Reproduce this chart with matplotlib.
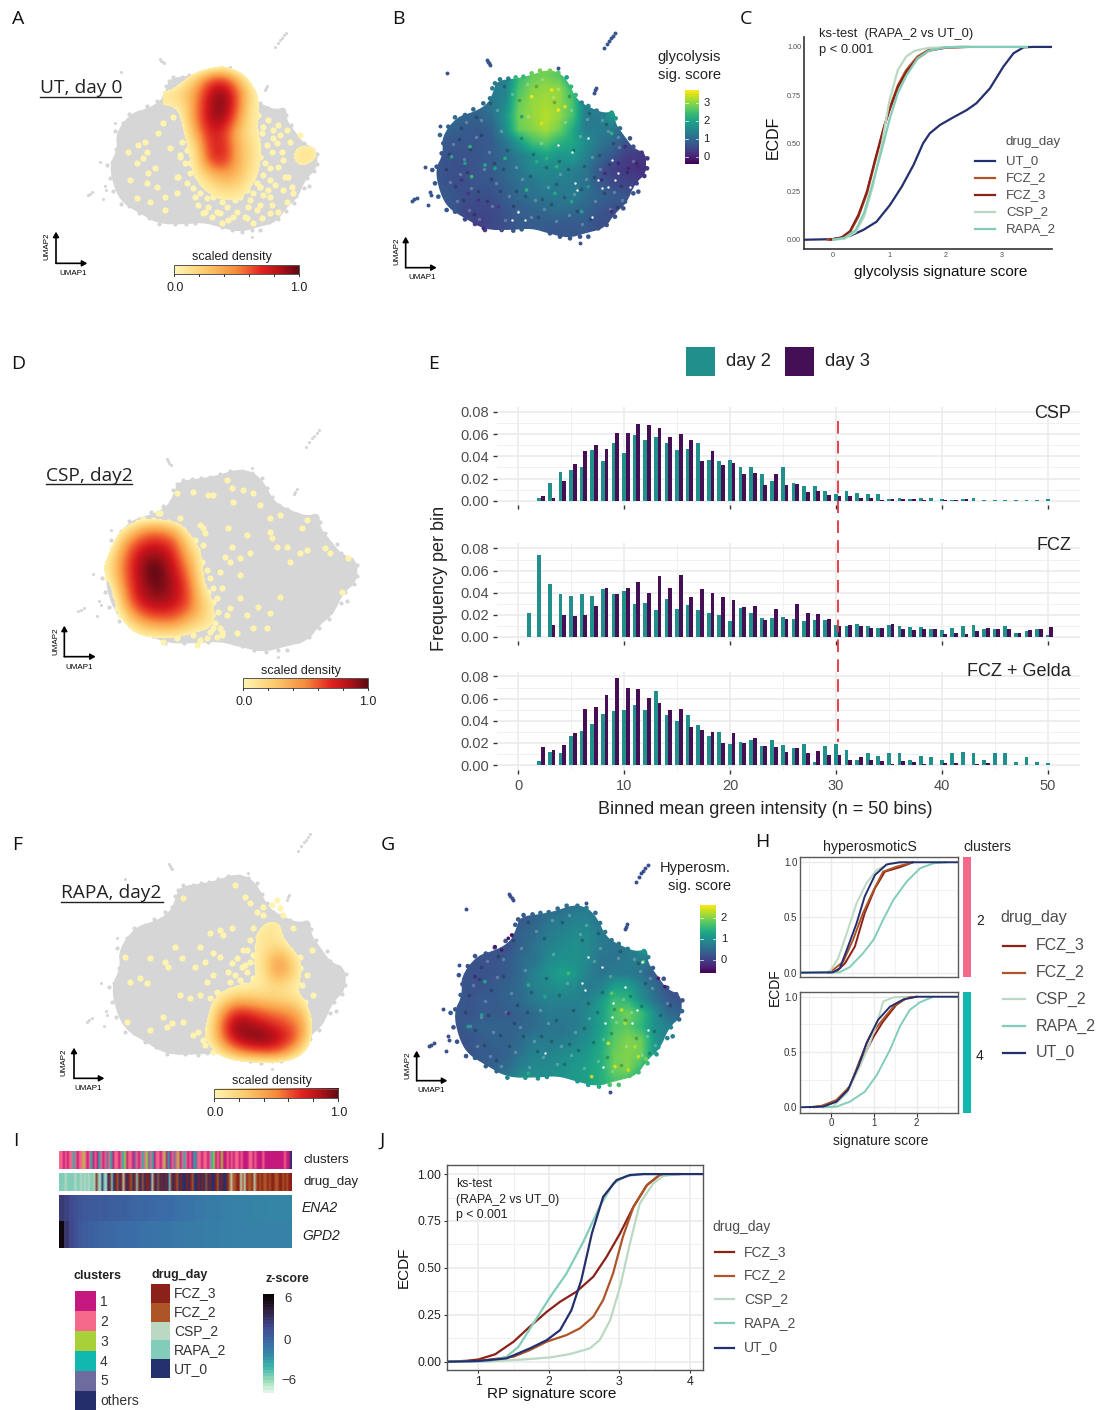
import numpy as np
import matplotlib
matplotlib.use('Agg')
import matplotlib.pyplot as plt
from matplotlib.colors import LinearSegmentedColormap
from matplotlib.colors import to_rgb
from matplotlib.patches import Polygon, Rectangle

plt.rcParams['font.family'] = ['Liberation Sans', 'DejaVu Sans']

W, H = 1113, 1410

# colours
c_ut, c_fcz2, c_fcz3, c_csp, c_rapa = '#24306E', '#AD5527', '#8B2118', '#BBD9C2', '#82CDB9'
c_day2, c_day3 = '#21908C', '#440F54'
cluster_colors = ['#C5187E', '#F4688A', '#A8D038', '#10B8AF', '#6E6C9E', '#242E6A']
cluster_names = ['1', '2', '3', '4', '5', 'others']
drug_names = ['FCZ_3', 'FCZ_2', 'CSP_2', 'RAPA_2', 'UT_0']
drug_colors = [c_fcz3, c_fcz2, c_csp, c_rapa, c_ut]

# ---- UMAP cloud outline and islands
cloud_x = [335, 395, 440, 480, 520, 550, 575, 620, 660, 690, 690, 720, 745, 785, 785, 750, 725, 690, 660, 600, 550, 490, 440, 380, 300, 240, 190, 165, 150, 175, 170, 215, 270, 310, 325]
cloud_y = [182, 175, 165, 150, 155, 185, 240, 265, 280, 270, 310, 350, 385, 400, 460, 490, 550, 580, 625, 640, 655, 640, 625, 630, 630, 595, 565, 520, 450, 400, 350, 290, 275, 250, 215]
fringe_x = [330, 345, 370, 392, 415, 440, 465, 495, 520, 545, 558, 572, 590, 610, 635, 655, 680, 692, 705, 735, 745, 770, 787, 786, 778, 755, 760, 745, 720, 715, 690, 685, 665, 640, 610, 585, 555, 525, 495, 470, 440, 410, 385, 350, 300, 270, 240, 210, 185, 160, 150, 142, 155, 170, 175, 165, 190, 210, 240, 265, 295, 315, 322]
fringe_y = [190, 178, 176, 172, 170, 160, 152, 152, 158, 172, 200, 225, 248, 258, 272, 285, 278, 295, 325, 355, 380, 398, 415, 445, 468, 490, 515, 520, 545, 565, 590, 578, 615, 625, 650, 650, 655, 650, 640, 625, 620, 628, 632, 630, 630, 612, 598, 575, 570, 530, 490, 450, 440, 400, 370, 345, 320, 292, 285, 268, 250, 235, 205]
island_x = [658, 665, 672, 678, 684, 690, 305, 308, 312, 315, 185, 630, 626, 633, 520, 82, 88, 95, 135, 138, 130, 585, 120, 165]
island_y = [85, 72, 62, 55, 47, 40, 120, 126, 130, 135, 160, 210, 218, 204, 145, 543, 538, 533, 515, 525, 555, 670, 440, 318]
grain_light_x = [205, 238, 272, 311, 349, 392, 428, 467, 503, 541, 586, 622, 668, 703, 744, 226, 259, 296, 334, 373, 412, 449, 488, 526, 567, 603, 645, 688, 216, 251, 283, 322, 361, 398, 437, 476, 514, 553, 592, 631, 676, 712, 195, 244, 289, 337, 381, 425, 471, 519, 558, 607, 652, 698]
grain_light_y = [372, 418, 351, 396, 332, 441, 287, 368, 231, 305, 347, 412, 333, 381, 422, 462, 503, 447, 489, 528, 478, 541, 502, 463, 522, 476, 447, 515, 542, 571, 597, 558, 601, 572, 592, 566, 603, 585, 611, 543, 566, 539, 486, 306, 301, 269, 221, 191, 177, 206, 269, 297, 301, 352]
grain_dark_x = [192, 221, 254, 288, 327, 365, 407, 444, 482, 523, 564, 598, 641, 683, 725, 211, 247, 279, 318, 354, 393, 435, 471, 512, 549, 589, 628, 672, 709, 234, 268, 305, 344, 383, 421, 458, 497, 538, 577, 616, 658, 695, 183, 228, 274, 316, 358, 403, 452, 507, 551, 613, 663, 752]
grain_dark_y = [401, 356, 387, 346, 428, 391, 353, 401, 441, 423, 391, 439, 404, 368, 455, 497, 456, 512, 477, 448, 513, 469, 536, 491, 447, 507, 471, 432, 499, 539, 581, 543, 514, 557, 527, 592, 552, 531, 572, 596, 519, 561, 447, 323, 292, 248, 197, 241, 197, 246, 227, 278, 312, 429]

# ---- density grid, panel A
dens_a_x = [420, 460, 500, 540, 580, 620, 660, 700, 740, 780, 820, 860, 900]
dens_a_y = [140, 180, 220, 260, 300, 340, 380, 420, 460, 500, 540, 580, 620]
dens_a = [[0, 0, 0, 0, .08, 0, 0, 0, 0, 0, 0, 0, 0],
          [0, .12, .3, .6, .65, .4, .1, 0, 0, 0, 0, 0, 0],
          [.2, .3, .45, .8, .95, .6, .25, .1, 0, 0, 0, 0, 0],
          [.18, .2, .5, .85, 1.0, .6, .2, .13, .2, .12, 0, 0, 0],
          [0, .17, .5, .85, .9, .5, .2, .13, .12, .1, 0, 0, 0],
          [0, .12, .4, .75, .7, .35, .2, .13, .12, .1, 0, 0, 0],
          [0, .1, .25, .7, .75, .4, .25, .13, .12, .12, .2, .18, 0],
          [0, .1, .2, .65, .75, .4, .25, .13, .1, .14, .24, .19, 0],
          [0, .1, .17, .35, .45, .38, .22, .12, .1, .1, .12, 0, 0],
          [0, .1, .13, .2, .28, .28, .15, .12, .1, .1, 0, 0, 0],
          [0, 0, .1, .13, .15, .15, .12, .1, .1, 0, 0, 0, 0],
          [0, 0, 0, .1, .12, .12, .1, .1, 0, 0, 0, 0, 0],
          [0, 0, 0, 0, 0, 0, 0, 0, 0, 0, 0, 0, 0]]
dots_a_x = [345, 385, 350, 325, 295, 320, 375, 355, 300, 350, 340, 420, 450, 465, 440, 380, 405, 360, 320, 405, 440, 470, 495, 535, 560, 610, 650, 575, 615, 660, 690, 720, 770, 790, 775, 760, 725, 810, 400, 430, 520, 590, 690,
            655, 670, 685, 700, 715, 730, 745, 660, 680, 695, 710, 730, 750, 770, 675, 690, 705, 720, 740, 755, 780, 665, 680, 700, 720, 745, 765, 785, 650, 670, 690, 715, 735, 760,
            490, 510, 530, 550, 575, 600, 630, 655, 680, 700, 725, 745, 505, 525, 545, 570, 595, 620, 645, 670, 695, 720, 480, 470, 455, 470, 450, 480, 465, 485, 445]
dots_a_y = [365, 340, 395, 375, 395, 430, 445, 460, 480, 490, 415, 385, 405, 430, 470, 500, 530, 545, 535, 570, 520, 490, 530, 560, 575, 590, 595, 610, 540, 540, 555, 530, 545, 520, 470, 420, 395, 345, 310, 290, 580, 560, 500,
            290, 310, 285, 320, 300, 330, 315, 345, 360, 340, 375, 355, 345, 330, 395, 410, 430, 445, 370, 395, 365, 470, 490, 465, 480, 440, 470, 500, 510, 520, 500, 510, 495, 510,
            505, 520, 535, 530, 545, 525, 530, 560, 570, 525, 555, 575, 555, 575, 590, 580, 600, 575, 590, 610, 595, 580, 460, 340, 365, 390, 410, 430, 300, 315, 470]

# ---- density grid, panel D
dens_d_x = [200, 240, 280, 320, 360, 400, 440, 480, 520, 560]
dens_d_y = [300, 340, 380, 420, 460, 500, 540, 580, 620, 660, 700]
dens_d = [[0, 0, 0, 0, 0, 0, 0, 0, 0, 0],
          [0, .1, .26, .42, .42, .32, .12, 0, 0, 0],
          [0, .28, .55, .7, .72, .6, .26, .1, 0, 0],
          [.1, .4, .7, .9, .9, .72, .38, .17, 0, 0],
          [.15, .45, .75, 1.0, 1.0, .8, .5, .18, 0, 0],
          [.1, .4, .72, .95, 1.0, .85, .6, .22, 0, 0],
          [0, .3, .7, .9, .95, .85, .65, .28, .12, 0],
          [0, .2, .55, .75, .8, .75, .6, .33, .18, 0],
          [0, .1, .3, .45, .5, .5, .35, .25, .18, 0],
          [0, 0, .12, .18, .2, .2, .15, .12, .12, 0],
          [0, 0, 0, 0, 0, 0, 0, 0, 0, 0]]
dots_d_x = [560, 575, 610, 505, 520, 580, 660, 640, 690, 720, 800, 785, 690, 695, 620, 565, 575, 555, 570, 600, 630, 710, 740, 780, 800, 855, 870, 925, 905, 720, 655, 600, 570, 560, 620, 690, 680, 640, 590, 545, 470, 520, 540, 600, 545, 490, 460, 410, 355, 750,
            480, 495, 465, 490, 470, 455, 485, 500, 510, 490, 505, 495, 520, 510, 530, 515, 535, 525, 540, 510, 530, 545, 500, 520, 480, 295, 310, 340, 360, 385, 420, 430, 200, 215, 225, 230, 240, 370, 410, 460, 215]
dots_d_y = [195, 220, 225, 240, 240, 262, 270, 235, 310, 300, 315, 340, 350, 370, 360, 340, 395, 425, 440, 430, 415, 395, 395, 415, 405, 400, 415, 430, 530, 545, 575, 550, 580, 600, 600, 595, 640, 640, 655, 660, 690, 560, 470, 480, 520, 340, 230, 235, 295, 440,
            330, 355, 375, 390, 405, 425, 440, 465, 490, 510, 530, 555, 520, 575, 550, 600, 590, 625, 640, 650, 665, 650, 670, 640, 675, 320, 312, 315, 295, 320, 310, 345, 490, 480, 540, 580, 600, 680, 670, 660, 400]

# ---- density grid, panel F
dens_f_x = [440, 480, 520, 560, 600, 640, 680, 720, 760, 800]
dens_f_y = [240, 280, 320, 360, 400, 440, 480, 520, 560, 600, 640, 680, 720]
dens_f = [[0, 0, 0, 0, 0, 0, 0, 0, 0, 0],
          [0, 0, 0, 0, 0, .14, .17, .1, 0, 0],
          [0, 0, 0, 0, .12, .22, .2, .1, 0, 0],
          [0, 0, 0, 0, .14, .2, .22, .14, 0, 0],
          [0, 0, 0, .1, .13, .22, .44, .3, .1, 0],
          [0, 0, .1, .15, .13, .2, .47, .34, .12, 0],
          [0, .1, .12, .12, .15, .18, .25, .2, .12, 0],
          [0, .12, .2, .32, .3, .28, .25, .22, .15, 0],
          [0, .15, .45, .7, .65, .55, .5, .45, .3, 0],
          [.1, .17, .6, .95, .9, .8, .7, .6, .42, 0],
          [.12, .18, .55, .85, .95, 1.0, .85, .7, .38, 0],
          [0, .1, .25, .45, .55, .6, .6, .4, .15, 0],
          [0, 0, 0, 0, 0, 0, 0, 0, 0, 0]]
dots_f_x = [555, 585, 600, 400, 510, 545, 480, 520, 450, 375, 300, 345, 355, 395, 435, 465, 490, 510, 470, 490, 390, 420, 290, 270, 240, 225, 400, 365, 340, 350, 300, 230, 500, 450, 750, 785, 740, 790, 580, 730,
            610, 625, 600, 620, 590, 610, 600, 585, 710, 700, 690, 720, 735, 750, 700, 720, 770, 755, 765, 545, 560, 575, 535, 555, 570, 590, 610, 625, 540, 560, 580, 600, 430, 445, 460, 475, 465, 490, 480, 640, 620, 640, 665, 690, 700, 680]
dots_f_y = [180, 215, 235, 220, 315, 310, 325, 330, 365, 365, 400, 410, 425, 400, 425, 410, 385, 395, 470, 450, 510, 520, 475, 458, 470, 395, 590, 595, 575, 605, 615, 590, 500, 510, 395, 375, 470, 510, 375, 310,
            310, 335, 345, 365, 375, 390, 410, 420, 470, 490, 510, 465, 445, 430, 530, 505, 450, 480, 530, 415, 400, 425, 440, 450, 465, 440, 460, 480, 470, 490, 480, 505, 630, 620, 645, 635, 660, 680, 520, 270, 260, 245, 240, 250, 270, 225]

# ---- score grids, panels B and G
score_b_x = [160, 200, 240, 280, 320, 360, 400, 440, 480, 520, 560, 600, 640, 680, 720, 760]
score_b_y = [170, 210, 250, 290, 330, 370, 410, 450, 490, 530, 570, 610, 650]
score_b = [[1, 1, 1, 1, 1.3, 1.3, 2.3, 2.7, 2.8, 2.6, 1.9, 1, 1, 1, 1, 1],
           [1, 1, 1, 1, 1.3, 1.4, 2.5, 2.9, 3.0, 3.0, 2.3, 1.2, 1, 1, 1, 1],
           [1, 1, 1, 1.0, 1.2, 1.5, 2.7, 3.0, 3.1, 3.0, 2.5, 1.4, 1.3, 1.8, 1, 1],
           [1, 1, .9, .9, 1.1, 1.7, 2.8, 3.0, 3.2, 3.0, 2.5, 1.3, 1.3, 1.8, 1.2, 1],
           [1, .9, .8, .7, .9, 1.6, 2.7, 2.9, 3.1, 2.8, 2.1, 1.3, 1.3, 1.2, 1, 1],
           [.8, .7, .7, .7, .8, 1.2, 1.8, 2.4, 2.6, 2.2, 2.0, 1.6, 1.2, 1, .7, .6],
           [.7, .6, .65, .7, .8, 1.0, 1.3, 1.6, 1.9, 1.7, 1.8, 1.4, 1, .7, .35, .3],
           [.7, .6, .6, .7, .8, 1.0, 1.2, 1.5, 1.5, 1.5, 1.4, 1.2, .7, .4, .3, .2],
           [.7, .6, .6, .7, .7, .9, 1.1, 1.2, 1.4, 1.3, 1.3, 1.1, .8, .5, .45, .4],
           [.8, .7, .6, .6, .6, .8, 1.0, 1.1, 1.2, 1.2, 1.3, 1.1, .9, .8, .7, .6],
           [.8, .7, .5, .5, .5, .7, .8, .9, 1, 1.1, 1, .9, .7, .6, .6, .6],
           [.7, .7, .5, .4, .5, .6, .8, .8, .8, .8, .8, .8, .6, .6, .6, .6],
           [.7, .7, .5, .5, .6, .6, .7, .8, .7, .7, .7, .7, .6, .6, .6, .6]]
dots_b_x = [255, 260, 300, 200, 330, 360, 240, 425, 560, 590, 510, 455, 485, 515, 700, 730, 660, 650, 680, 295, 250, 440, 500, 470, 520, 410, 540, 280, 230, 340, 610, 680, 720, 760]
dots_b_y = [380, 470, 435, 410, 445, 415, 430, 510, 545, 575, 520, 425, 415, 440, 430, 445, 460, 480, 575, 625, 520, 230, 210, 310, 270, 290, 260, 540, 480, 560, 500, 340, 380, 440]
dots_b_v = [2.2, 2.3, 2.1, 2.0, 2.0, 2.1, 1.9, 2.2, 2.0, 2.0, 2.1, 2.1, 2.2, 2.2, 0.0, 0.0, 0.1, 0.1, 0.1, 0.1, 0.2, 3.5, 3.5, 3.4, 3.5, 2.0, 3.4, 0.2, 0.2, 0.3, 1.8, 2.2, 0.1, 0.1]
gaps_b_x = [640, 670, 700, 570, 560, 400, 620, 520, 680, 610, 650, 690, 735, 380, 420, 575]
gaps_b_y = [480, 500, 460, 490, 395, 575, 590, 375, 420, 355, 505, 480, 500, 600, 600, 510]

score_g_x = [180, 220, 260, 300, 340, 380, 420, 460, 500, 540, 580, 620, 660, 700, 740, 780, 820, 860]
score_g_y = [170, 210, 250, 290, 330, 370, 410, 450, 490, 530, 570, 610, 650, 690]
score_g = [[.5, .5, .5, .5, .5, .5, .5, .5, .5, .6, .7, .5, .5, .5, .5, .5, .5, .5],
           [.3, .3, .3, .3, .3, .3, .4, .6, .7, .8, .8, .6, .6, .6, .6, .6, .6, .6],
           [.3, .3, .3, .2, .2, .4, .5, .7, .8, .9, .9, .7, .6, .6, .6, .6, .6, .6],
           [.3, .3, .2, .2, .2, .4, .6, .8, .9, 1, .9, .7, .6, .7, 1.1, 1.1, .6, .6],
           [.2, .2, .2, .2, .3, .5, .6, .9, 1, 1, .9, .6, .6, .7, .7, .6, .4, .3],
           [.2, .2, .2, .2, .3, .5, .8, 1, 1.2, 1.1, .8, .6, .7, .7, .6, .3, .2, .2],
           [.3, .2, .2, .3, .4, .5, .8, .9, 1, .9, .7, .8, 1.2, 1.2, .8, .5, .2, .1],
           [.3, .2, .3, .3, .4, .5, .7, .8, .8, .8, .8, 1.1, 1.6, 1.5, 1, .6, .3, .2],
           [.3, .2, .3, .3, .3, .4, .5, .7, .7, .7, .9, 1.2, 1.7, 1.9, 1.6, 1, .5, .4],
           [.2, .3, .4, .4, .4, .4, .5, .6, .6, .7, .9, 1.2, 1.7, 1.8, 1.5, 1, .8, .6],
           [.2, .2, .3, .4, .4, .5, .7, .7, .7, .8, 1, 1.3, 1.8, 2, 1.9, 1.1, .8, .6],
           [.1, .2, .3, .3, .4, .6, .8, .8, .9, 1, 1.1, 1.4, 1.9, 2, 1.9, 1.1, .7, .6],
           [.3, .3, .3, .4, .5, .8, .9, .9, 1, 1.1, 1.2, 1.4, 1.9, 2, 1.6, .8, .6, .6],
           [.5, .5, .5, .6, .8, 1, 1, 1, 1, 1.1, 1.2, 1.4, 1.7, 1.7, 1.2, .8, .6, .6]]
dots_g_x = [270, 260, 300, 340, 220, 400, 450, 520, 590, 640, 680, 720, 650, 700, 660, 690, 730, 350, 320, 240, 340, 790, 810, 745, 400]
dots_g_y = [395, 495, 290, 265, 530, 405, 440, 370, 680, 580, 480, 590, 430, 660, 650, 520, 620, 255, 300, 380, 490, 385, 410, 335, 670]
dots_g_v = [1.3, 1.2, -.4, -.5, 1.2, 1.4, 1.3, 1.6, 2.3, 2.4, 2.3, 2.2, 1.8, 2.3, 2.4, 2.2, 2.3, -.5, -.4, -.3, -.2, -.4, -.4, 1.7, 1.4]
gaps_g_x = [570, 620, 650, 710, 690, 740, 630, 450, 580, 560, 655, 725, 760, 625]
gaps_g_y = [420, 350, 500, 520, 410, 335, 520, 610, 320, 400, 460, 480, 540, 650]

# ---- panel C curves
ut_c_x = [-.52, 0, .30, .53, .77, 1.01, 1.22, 1.43, 1.60, 1.72, 1.90, 2.14, 2.38, 2.55, 2.79, 3.03, 3.21, 3.39, 3.56, 3.89]
ut_c_y = [0, .003, .02, .05, .093, .18, .275, .388, .50, .552, .595, .635, .673, .708, .785, .898, .967, .998, 1, 1]
fcz2_c_x = [-.1, .15, .3, .45, .6, .75, .9, 1.0, 1.15, 1.3, 1.5, 1.7, 2.0, 2.3]
fcz2_c_y = [0, .01, .04, .12, .24, .41, .58, .68, .80, .88, .95, .985, .998, 1]
fcz3_c_x = [-.05, .15, .3, .45, .6, .75, .9, 1.0, 1.15, 1.3, 1.5, 1.7, 2.0, 2.4]
fcz3_c_y = [0, .012, .045, .13, .25, .42, .58, .67, .79, .87, .94, .98, .996, 1]
csp_c_x = [0, .2, .4, .55, .7, .85, 1.0, 1.15, 1.3, 1.45, 1.7, 2.2, 3.4]
csp_c_y = [0, .005, .04, .12, .27, .47, .72, .88, .95, .98, .995, 1, 1]
rapa_c_x = [0, .2, .4, .55, .7, .85, 1.0, 1.15, 1.3, 1.5, 1.7, 2.0, 2.3, 3.45]
rapa_c_y = [0, .01, .05, .14, .29, .45, .62, .76, .85, .94, .98, .998, 1, 1]

# ---- panel E bars, bins 1 to 50
bins = list(range(1, 51))
csp_day2 = [0, .003, .016, .026, .028, .030, .046, .036, .052, .043, .059, .055, .057, .052, .046, .047, .052, .037, .036, .037, .030, .030, .024, .018, .030, .016, .013, .013, .009, .006, .009, .007, .006, .006, .002, .003, .002, .003, .003, .002, .001, .002, .003, .001, .001, .001, .001, .001, .001, .002]
csp_day3 = [0, .004, .003, .018, .033, .045, .050, .047, .061, .061, .069, .068, .065, .057, .060, .055, .036, .045, .032, .034, .024, .025, .014, .024, .014, .015, .008, .009, .005, .004, .004, .003, .003, .001, .002, .002, .002, .001, 0, .001, .001, .002, 0, 0, 0, 0, 0, 0, 0, 0]
fcz_day2 = [.022, .074, .048, .039, .037, .039, .037, .043, .039, .042, .030, .031, .024, .034, .025, .029, .024, .022, .020, .014, .026, .022, .017, .017, .018, .016, .014, .015, .015, .011, .010, .012, .010, .008, .011, .010, .009, .009, .007, .006, .008, .010, .011, .007, .007, .010, .004, .005, .007, .002]
fcz_day3 = [0, 0, .011, .020, .019, .020, .028, .044, .039, .044, .050, .040, .055, .044, .056, .036, .043, .040, .036, .033, .027, .028, .015, .025, .016, .030, .022, .021, .016, .010, .011, .010, .008, .008, .012, .007, .006, .007, .007, .003, .004, .003, .005, .008, .007, .007, .004, .006, .007, .009]
gelda_day2 = [0, .004, .012, .011, .026, .031, .037, .046, .049, .050, .054, .050, .067, .045, .040, .045, .036, .026, .030, .019, .021, .023, .017, .023, .018, .015, .019, .003, .017, .019, .014, .005, .011, .008, .011, .011, .005, .008, .007, .005, .011, .012, .011, .005, .011, .011, .003, .007, .003, .002]
gelda_day3 = [0, .016, .014, .018, .029, .051, .052, .063, .079, .070, .069, .061, .056, .050, .051, .034, .032, .030, .020, .029, .020, .024, .017, .016, .012, .015, .011, .013, .009, .009, .005, .007, .005, .004, .001, .004, .003, .001, 0, .002, .002, 0, .001, .002, 0, 0, 0, 0, 0, 0]
e_ticks = [0, 10, 20, 30, 40, 50]
e_yticks = [0, .02, .04, .06, .08]

# ---- panel H curves, cluster 2
h2_rapa_x = [-.72, .2, .44, .75, 1.0, 1.22, 1.46, 1.77, 2.08, 2.39, 2.7]
h2_rapa_y = [0, .003, .05, .175, .30, .48, .66, .825, .945, .99, 1]
h2_ut_x = [-.72, .05, .21, .40, .6, .79, 1.03, 1.3, 1.6, 2.96]
h2_ut_y = [0, .003, .04, .236, .447, .69, .885, .98, 1, 1]
h2_csp_x = [-.1, 0, .17, .37, .6, .83, 1.07, 1.38, 1.77]
h2_csp_y = [0, .024, .13, .356, .63, .81, .93, .99, 1]
h2_fcz2_x = [-.1, .05, .29, .52, .75, 1, 1.22, 1.53, 1.92]
h2_fcz2_y = [0, .024, .1, .3, .54, .75, .915, .96, 1]
h2_fcz3_x = [-.05, .13, .33, .56, .79, 1.03, 1.26, 1.61, 1.92]
h2_fcz3_y = [0, .01, .085, .236, .54, .765, .915, .955, 1]
# ---- panel H curves, cluster 4
h4_rapa_x = [-.2, .13, .44, .79, 1.07, 1.38, 1.61, 1.84, 2.08, 2.39]
h4_rapa_y = [0, .005, .05, .14, .29, .52, .73, .88, .95, 1]
h4_ut_x = [-.72, -.18, .13, .4, .64, .83, 1.1, 1.38, 1.69, 2, 2.96]
h4_ut_y = [0, .006, .05, .157, .37, .58, .79, .91, .975, 1, 1]
h4_csp_x = [-.1, .05, .37, .68, .91, 1.1, 1.22, 1.46, 1.77]
h4_csp_y = [0, .006, .127, .37, .58, .79, .957, .994, 1]
h4_fcz2_x = [-.5, -.22, .13, .44, .68, .91, 1.14, 1.46, 1.77, 2]
h4_fcz2_y = [0, .012, .066, .187, .43, .64, .76, .91, .99, 1]
h4_fcz3_x = [-.4, -.1, .17, .44, .68, 1, 1.22, 1.53, 1.77, 2]
h4_fcz3_y = [0, .02, .066, .187, .40, .64, .776, .927, .99, 1]

# ---- panel J curves
j_fcz3_x = [.56, .83, 1, 1.24, 1.5, 1.73, 1.97, 2.16, 2.39, 2.63, 2.82, 3.01, 3.2, 3.39, 3.57, 3.76, 3.85]
j_fcz3_y = [0, .005, .012, .04, .107, .187, .266, .32, .373, .453, .56, .684, .826, .941, .995, 1, 1]
j_fcz2_x = [.56, 1, 1.5, 1.73, 1.97, 2.25, 2.44, 2.63, 2.77, 2.91, 3.05, 3.2, 3.39, 3.57, 3.76]
j_fcz2_y = [0, .004, .027, .062, .107, .142, .178, .24, .329, .47, .666, .826, .941, .995, 1]
j_csp_x = [.56, 1.17, 1.64, 2.02, 2.3, 2.58, 2.72, 2.87, 3.01, 3.15, 3.29, 3.48, 3.62, 3.81]
j_csp_y = [0, .002, .012, .023, .041, .071, .115, .222, .40, .63, .844, .95, .989, 1]
j_rapa_x = [.56, 1.17, 1.4, 1.57, 1.78, 2.02, 2.25, 2.49, 2.72, 2.91, 3.1, 3.34, 3.81]
j_rapa_y = [0, .004, .027, .08, .204, .346, .47, .64, .826, .95, .99, 1, 1]
j_ut_x = [.56, 1, 1.4, 1.73, 1.97, 2.16, 2.32, 2.46, 2.61, 2.77, 2.96, 3.15, 3.34, 4.19]
j_ut_y = [0, .004, .018, .071, .115, .169, .275, .435, .684, .879, .968, .995, 1, 1]

# ---- panel I
clusters_strip = "2212122421223212412142125241221243122152124235241221231412523124212145221221243121311212122121112212111211111111112116"
drug_strip = "RRRCRRRRCRRCRCRCRRC3RCURCU3RU32U3C3U32U3R3U2U33UC3U2U3U3UR3U32U3UU3U32UU3U3U2U3UU32U3UU32C2233C2C3223C2323223233223323233"
ena2 = [3.0, 2.6, 2.0, 1.5, 1.2, 1.0, .9, .8, .7, .8, .6, .5, .4, .5, .2, .1, 0, .1, -.1, -.2, -.3, -.4, -.5, -.5, -.7, -.8, -.8, -1, -1.1, -1.1, -1.3, -1.4, -1.4, -1.5, -1.6, -1.6, -1.7, -1.7, -1.8, -1.8, -1.9, -1.9, -1.9, -2.0, -2.0, -2.0, -2.0, -2.0]
gpd2 = [6.5, 3.2, 2.2, 1.5, 1.0, .7, .4, .2, .1, 0, -.1, -.2, -.3, -.4, -.5, -.5, -.6, -.7, -.8, -.9, -.9, -1, -1, -1.1, -1.2, -1.2, -1.3, -1.3, -1.4, -1.4, -1.5, -1.5, -1.5, -1.6, -1.6, -1.6, -1.7, -1.7, -1.7, -1.7, -1.7, -1.8, -1.8, -1.8, -1.8, -1.8, -1.8, -1.8]
zscore_ticks = [6, 0, -6]

# colour bar ramp, and the same ramp pushed towards red for the maps
density_cmap = LinearSegmentedColormap.from_list('dens', [(0, '#FFF6B5'), (.25, '#FDCB6E'), (.5, '#F58B3C'), (.7, '#E32320'), (.85, '#B01218'), (1, '#5E0A14')])
map_cmap = LinearSegmentedColormap.from_list('densmap', [(0, '#FFEFA6'), (.15, '#FDCF74'), (.35, '#F99B45'), (.55, '#EC4A2A'), (.72, '#D2161D'), (.88, '#9C1019'), (1, '#5E0A14')])
map_cmap.set_under((1, 1, 1, 0))
z_cmap = LinearSegmentedColormap.from_list('z', [(0, '#DEF5E5'), (.1, '#A0DFB9'), (.25, '#40B7AD'), (.39, '#3587A6'), (.5, '#3B6DA8'), (.68, '#40498E'), (.85, '#2E1E3B'), (1, '#0B0405')])

fig = plt.figure(figsize=(W / 100, H / 100), dpi=100)


def px_axes(x, y, w, h):
    return fig.add_axes([x / W, 1 - (y + h) / H, w / W, h / H])


def umap_axes(x, y, w, h):
    ax = px_axes(x, y, w, h)
    ax.axis('off')
    ax.patch.set_alpha(0)
    return ax


def set_zoom_limits(ax, w, h):
    ax.set_xlim(0, w * 3)
    ax.set_ylim(h * 3, 0)


def cloud_coords(xs, ys, box):
    xs, ys = np.array(xs, float), np.array(ys, float)
    return box[0] + (xs - 145) / 640 * (box[1] - box[0]), box[2] + (ys - 150) / 505 * (box[3] - box[2])


def round_corners(pts, passes=2):
    # corner cutting, only so the outline does not look like a polygon
    for _ in range(passes):
        nxt = np.roll(pts, -1, axis=0)
        pts = np.c_[.75 * pts + .25 * nxt, .25 * pts + .75 * nxt].reshape(-1, 2)
    return pts


def umap_arrows(ax, ox, oy, top, right, l2, l1):
    for end in [(ox, top), (right, oy)]:
        ax.annotate('', xy=end, xytext=(ox, oy), arrowprops=dict(arrowstyle='-|>,head_width=.17,head_length=.3', color='black', lw=1.2, shrinkA=0, shrinkB=0))
    ax.text(l2[0], l2[1], 'UMAP2', rotation=90, ha='center', va='center', fontsize=5.8)
    ax.text(l1[0], l1[1], 'UMAP1', ha='center', va='center', fontsize=5.8)


def gray_umap(ax, box):
    cx, cy = cloud_coords(cloud_x, cloud_y, box)
    ax.add_patch(Polygon(round_corners(np.c_[cx, cy]), closed=True, fc='#D6D6D6', ec='#D6D6D6', lw=1, zorder=1))
    ix, iy = cloud_coords(island_x, island_y, box)
    ax.scatter(ix, iy, s=5, c='#D6D6D6', lw=0, zorder=1)
    fx, fy = cloud_coords(fringe_x, fringe_y, box)
    ax.scatter(fx, fy, s=9, c='#D6D6D6', lw=0, zorder=1)


def density(ax, grid_x, grid_y, grid, dots_x, dots_y):
    ax.scatter(dots_x, dots_y, s=20, c='#FFF3B0', lw=0, zorder=2)
    dx, dy = grid_x[1] - grid_x[0], grid_y[1] - grid_y[0]
    ext = [grid_x[0] - dx / 2, grid_x[-1] + dx / 2, grid_y[-1] + dy / 2, grid_y[0] - dy / 2]
    ax.imshow(grid, extent=ext, cmap=map_cmap, vmin=.16, vmax=1, interpolation='bicubic', aspect='auto', zorder=3)


def density_bar(ax, x0, x1, y0, y1):
    ax.imshow(np.linspace(0, 1, 256)[None, :], extent=[x0, x1, y1, y0], cmap=density_cmap, vmin=0, vmax=1, aspect='auto', zorder=4)
    ax.add_patch(Rectangle((x0, y0), x1 - x0, y1 - y0, fc='none', ec='#555555', lw=.7, zorder=5))
    for i in range(6):
        tx = x0 + (x1 - x0) * i / 5
        ax.plot([tx, tx], [y1, y1 + 7], color='#333333', lw=.7, zorder=5)
    ax.text((x0 + x1) / 2 - 13, y0 - 23, 'scaled density', ha='center', va='center', fontsize=9, color='#222222')
    ax.text(x0 + 4, y1 + 43, '0.0', ha='center', va='center', fontsize=9, color='#222222')
    ax.text(x1, y1 + 43, '1.0', ha='center', va='center', fontsize=9, color='#222222')


def nearest_grid(xs, ys, grid_x, grid_y, grid):
    ci = np.abs(np.subtract.outer(xs, np.array(grid_x))).argmin(axis=1)
    ri = np.abs(np.subtract.outer(ys, np.array(grid_y))).argmin(axis=1)
    return np.array(grid)[ri, ci]


def score_umap(ax, box, grid_x, grid_y, grid, vmin, vmax, island_color, dots, gaps):
    cx, cy = cloud_coords(cloud_x, cloud_y, box)
    poly = Polygon(round_corners(np.c_[cx, cy]), closed=True, transform=ax.transData, fc='none', ec='none')
    ax.add_patch(poly)
    dx, dy = grid_x[1] - grid_x[0], grid_y[1] - grid_y[0]
    ext = [grid_x[0] - dx / 2, grid_x[-1] + dx / 2, grid_y[-1] + dy / 2, grid_y[0] - dy / 2]
    im = ax.imshow(grid, extent=ext, cmap='viridis', vmin=vmin, vmax=vmax, interpolation='bilinear', aspect='auto', zorder=1)
    im.set_clip_path(poly)
    fx, fy = cloud_coords(fringe_x, fringe_y, box)
    ax.scatter(fx, fy, s=11, c=nearest_grid(fx, fy, grid_x, grid_y, grid), cmap='viridis', vmin=vmin, vmax=vmax, lw=0, zorder=2)
    ix, iy = cloud_coords(island_x, island_y, box)
    ax.scatter(ix, iy, s=8, c=island_color, lw=0, zorder=2)
    lx, ly = cloud_coords(grain_light_x, grain_light_y, box)
    ax.scatter(lx, ly, s=6, c='white', alpha=.22, lw=0, zorder=2)
    kx, ky = cloud_coords(grain_dark_x, grain_dark_y, box)
    ax.scatter(kx, ky, s=7, c='black', alpha=.22, lw=0, zorder=2)
    ax.scatter(dots[0], dots[1], s=7, c=dots[2], cmap='viridis', vmin=vmin, vmax=vmax, lw=0, zorder=3)
    ax.scatter(gaps[0], gaps[1], s=3, c='white', lw=0, zorder=3)


def score_bar(ax, x0, x1, y0, y1, vmin, vmax, lo, hi, ticks):
    ax.imshow(np.linspace(hi, lo, 256)[:, None], extent=[x0, x1, y1, y0], cmap='viridis', vmin=vmin, vmax=vmax, aspect='auto', zorder=4)
    for t in ticks:
        ty = y0 + (hi - t) / (hi - lo) * (y1 - y0)
        ax.plot([x0, x0 + 8], [ty, ty], color='white', lw=.5, zorder=5)
        ax.plot([x1 - 8, x1], [ty, ty], color='white', lw=.5, zorder=5)
        ax.text(x1 + 15, ty, str(t), ha='left', va='center', fontsize=8, color='#222222')


def underlined(ax, x0, x1, y, yline, text):
    ax.text(x0, y, text, ha='left', va='center', fontsize=13.8, family='Open Sans', color='#222222')
    ax.plot([x0, x1], [yline, yline], color='#222222', lw=1)


# panel A
ax = umap_axes(30, 20, 310, 280)
gray_umap(ax, (235, 860, 145, 635))
density(ax, dens_a_x, dens_a_y, dens_a, dots_a_x, dots_a_y)
density_bar(ax, 433, 807, 735, 762)
umap_arrows(ax, 78, 730, 635, 172, (52, 680), (130, 760))
underlined(ax, 30, 272, 203, 232, 'UT, day 0')
set_zoom_limits(ax, 310, 280)

# panel B
ax = umap_axes(385, 20, 345, 280)
score_umap(ax, (145, 785, 150, 655), score_b_x, score_b_y, score_b, -.38, 3.64, '#39568C', (dots_b_x, dots_b_y, dots_b_v), (gaps_b_x, gaps_b_y))
score_bar(ax, 900, 940, 213, 433, -.38, 3.64, -.38, 3.64, [3, 2, 1, 0])
ax.text(818, 112, 'glycolysis', ha='left', va='center', fontsize=10.5, color='#222222')
ax.text(818, 165, 'sig. score', ha='left', va='center', fontsize=10.5, color='#222222')
umap_arrows(ax, 62, 743, 650, 155, (35, 695), (110, 772))
set_zoom_limits(ax, 345, 280)

# panel D
ax = umap_axes(40, 415, 340, 300)
gray_umap(ax, (190, 950, 165, 710))
density(ax, dens_d_x, dens_d_y, dens_d, dots_d_x, dots_d_y)
density_bar(ax, 608, 983, 790, 818)
umap_arrows(ax, 73, 725, 632, 167, (47, 678), (117, 758))
underlined(ax, 18, 275, 183, 208, 'CSP, day2')
set_zoom_limits(ax, 340, 300)

# panel F
ax = umap_axes(50, 825, 310, 300)
gray_umap(ax, (180, 885, 150, 715))
density(ax, dens_f_x, dens_f_y, dens_f, dots_f_x, dots_f_y)
density_bar(ax, 491, 865, 792, 820)
umap_arrows(ax, 72, 760, 668, 163, (43, 712), (113, 790))
underlined(ax, 32, 338, 204, 232, 'RAPA, day2')
set_zoom_limits(ax, 310, 300)

# panel G
ax = umap_axes(395, 850, 345, 260)
score_umap(ax, (170, 860, 165, 710), score_g_x, score_g_y, score_g, -.64, 2.62, '#3B4F8C', (dots_g_x, dots_g_y, dots_g_v), (gaps_g_x, gaps_g_y))
score_bar(ax, 915, 962, 166, 370, -.64, 2.62, -.64, 2.62, [2, 1, 0])
ax.text(1008, 55, 'Hyperosm.', ha='right', va='center', fontsize=10.5, color='#222222')
ax.text(1008, 108, 'sig. score', ha='right', va='center', fontsize=10.5, color='#222222')
umap_arrows(ax, 65, 692, 602, 157, (38, 645), (107, 722))
set_zoom_limits(ax, 345, 260)

# panel C
ax = px_axes(804, 36.7, 247.7, 212.3)
for x, y, c in [(ut_c_x, ut_c_y, c_ut), (fcz2_c_x, fcz2_c_y, c_fcz2), (fcz3_c_x, fcz3_c_y, c_fcz3), (csp_c_x, csp_c_y, c_csp), (rapa_c_x, rapa_c_y, c_rapa)]:
    ax.plot(x, y, color=c, lw=1.6)
ax.set_xlim(-.52, 3.89)
ax.set_ylim(-.048, 1.053)
ax.set_xticks([0, 1, 2, 3])
ax.set_yticks([0, .25, .5, .75, 1])
ax.set_yticklabels(['0.00', '0.25', '0.50', '0.75', '1.00'])
ax.tick_params(length=0, labelsize=5.2, labelcolor='#4D4D4D', pad=2)
for s in ['top', 'right']:
    ax.spines[s].set_visible(False)
for s in ['left', 'bottom']:
    ax.spines[s].set_linewidth(1.2)
    ax.spines[s].set_color('#333333')

# panel E
e_rows = [(406.7, 98.7, csp_day2, csp_day3), (543.5, 97.9, fcz_day2, fcz_day3), (671.5, 98, gelda_day2, gelda_day3)]
for i, (top, height, d2, d3) in enumerate(e_rows):
    ax = px_axes(497, top, 583, height)
    ax.bar(np.array(bins), d2, width=.36, color=c_day2, zorder=3)
    ax.bar(np.array(bins) + .34, d3, width=.36, color=c_day3, zorder=3)
    ax.set_xlim(-2.0, 53.05)
    ax.set_ylim(-.004, .0845)
    ax.set_xticks(e_ticks)
    ax.set_xticks([5, 15, 25, 35, 45], minor=True)
    ax.set_yticks(e_yticks)
    ax.set_yticklabels(['0.00', '0.02', '0.04', '0.06', '0.08'])
    ax.set_yticks([.01, .03, .05, .07], minor=True)
    ax.grid(which='major', color='#EBEBEB', lw=1.2, zorder=0)
    ax.grid(which='minor', color='#F0F0F0', lw=.7, zorder=0)
    ax.set_axisbelow(True)
    ax.tick_params(which='minor', length=0)
    ax.tick_params(axis='y', which='major', length=3, width=1, color='#333333', labelsize=10.5, labelcolor='#4D4D4D', pad=3)
    ax.tick_params(axis='x', which='major', length=3, width=1, color='#333333', labelsize=10.5, labelcolor='#4D4D4D', pad=4, labelbottom=(i == 2))
    for s in ax.spines.values():
        s.set_visible(False)

# panel H
h_rows = [(857.3, 120, [(h2_fcz3_x, h2_fcz3_y, c_fcz3), (h2_fcz2_x, h2_fcz2_y, c_fcz2), (h2_csp_x, h2_csp_y, c_csp), (h2_rapa_x, h2_rapa_y, c_rapa), (h2_ut_x, h2_ut_y, c_ut)], (-.042, 1.045)),
          (992.3, 120.4, [(h4_fcz3_x, h4_fcz3_y, c_fcz3), (h4_fcz2_x, h4_fcz2_y, c_fcz2), (h4_csp_x, h4_csp_y, c_csp), (h4_rapa_x, h4_rapa_y, c_rapa), (h4_ut_x, h4_ut_y, c_ut)], (-.049, 1.04))]
for i, (top, height, curves, ylim) in enumerate(h_rows):
    ax = px_axes(800, top, 157.7, height)
    for x, y, c in curves:
        ax.plot(x, y, color=c, lw=1.4, solid_capstyle='round')
    ax.set_xlim(-.72, 2.96)
    ax.set_ylim(*ylim)
    ax.set_xticks([0, 1, 2])
    ax.set_xticks([-.5, .5, 1.5, 2.5], minor=True)
    ax.set_yticks([0, .5, 1])
    ax.set_yticks([.25, .75], minor=True)
    ax.grid(which='major', color='#EBEBEB', lw=1)
    ax.grid(which='minor', color='#F0F0F0', lw=.6)
    ax.set_axisbelow(True)
    ax.tick_params(which='minor', length=0)
    ax.tick_params(axis='y', which='major', length=0, labelsize=7, labelcolor='#333333', pad=2)
    ax.tick_params(axis='x', which='major', length=3, color='#333333', labelsize=7, labelcolor='#333333', pad=1, labelbottom=(i == 1), bottom=(i == 1))
    for s in ax.spines.values():
        s.set_color('#5A5A5A')
        s.set_linewidth(1)

# panel J
ax = px_axes(447.3, 1164.7, 256, 205.3)
for x, y, c in [(j_fcz3_x, j_fcz3_y, c_fcz3), (j_fcz2_x, j_fcz2_y, c_fcz2), (j_csp_x, j_csp_y, c_csp), (j_rapa_x, j_rapa_y, c_rapa), (j_ut_x, j_ut_y, c_ut)]:
    ax.plot(x, y, color=c, lw=1.6)
ax.set_xlim(.56, 4.19)
ax.set_ylim(-.044, 1.05)
ax.set_xticks([1, 2, 3, 4])
ax.set_xticks([1.5, 2.5, 3.5], minor=True)
ax.set_yticks([0, .25, .5, .75, 1])
ax.set_yticklabels(['0.00', '0.25', '0.50', '0.75', '1.00'])
ax.set_yticks([.125, .375, .625, .875], minor=True)
ax.grid(which='major', color='#EBEBEB', lw=1.2)
ax.grid(which='minor', color='#F0F0F0', lw=.7)
ax.set_axisbelow(True)
ax.tick_params(which='minor', length=0)
ax.tick_params(which='major', length=2.5, labelsize=8.8, color='#333333', labelcolor='#222222', pad=2)
for s in ax.spines.values():
    s.set_color('#555555')
    s.set_linewidth(1)

# panel I heatmap
cluster_index = {'1': 0, '2': 1, '3': 2, '4': 3, '5': 4, '6': 5}
drug_index = {'3': 0, '2': 1, 'C': 2, 'R': 3, 'U': 4}
cluster_rgb = np.array([[to_rgb(cluster_colors[cluster_index[c]]) for c in clusters_strip]])
drug_rgb = np.array([[to_rgb(drug_colors[drug_index[c]]) for c in drug_strip]])
ax = px_axes(59, 1151.3, 233, 18)
ax.imshow(cluster_rgb, aspect='auto', interpolation='gaussian')
ax.axis('off')
ax = px_axes(59, 1172.7, 233, 18.6)
ax.imshow(drug_rgb, aspect='auto', interpolation='gaussian')
ax.axis('off')
ax = px_axes(59, 1194.7, 233, 53.6)
ax.imshow([ena2, gpd2], cmap=z_cmap, vmin=-7.7, vmax=6.8, aspect='auto', interpolation='nearest')
ax.axis('off')
ax = px_axes(263.3, 1294, 10.7, 98.7)
ax.imshow(np.linspace(6.8, -7.7, 30)[:, None], cmap=z_cmap, vmin=-7.7, vmax=6.8, aspect='auto', extent=[0, 1, -7.7, 6.8])
ax.axis('off')

# page level text, legends and letters
page = fig.add_axes([0, 0, 1, 1], zorder=20)
page.set_xlim(0, W)
page.set_ylim(H, 0)
page.axis('off')
page.patch.set_alpha(0)

letters = [('A', 18, 19), ('B', 398, 19), ('C', 746, 19), ('D', 18, 364), ('E', 434, 364), ('F', 17, 845), ('G', 388, 845), ('H', 762, 842), ('I', 16, 1141), ('J', 382, 1141)]
for s, x, y in letters:
    page.text(x, y, s, ha='center', va='center', fontsize=14, family='Open Sans', color='#111111')


def line_legend(title, tx, ty, names, colors, ys, hx0, hx1, lx, fs, lw=1.6):
    page.text(tx, ty, title, ha='left', va='center', fontsize=fs, color='#4D4D4D')
    for n, c, y in zip(names, colors, ys):
        page.plot([hx0, hx1], [y, y], color=c, lw=lw)
        page.text(lx, y, n, ha='left', va='center', fontsize=fs, color='#4D4D4D')


# C text
page.text(818.7, 34, 'ks-test  (RAPA_2 vs UT_0)', ha='left', va='center', fontsize=9.3, color='#222222')
page.text(818.7, 50, 'p < 0.001', ha='left', va='center', fontsize=9.3, color='#222222')
page.text(773, 137, 'ECDF', rotation=90, ha='center', va='center', fontsize=11.5, color='#111111')
page.text(941, 272, 'glycolysis signature score', ha='center', va='center', fontsize=11, color='#111111')
line_legend('drug_day', 1006, 142, ['UT_0', 'FCZ_2', 'FCZ_3', 'CSP_2', 'RAPA_2'], [c_ut, c_fcz2, c_fcz3, c_csp, c_rapa], [160.7, 178, 195, 211.7, 229], 975, 995, 1006, 9.5)

# E text
page.add_patch(Rectangle((686, 347), 29, 29, fc=c_day2, ec='none'))
page.add_patch(Rectangle((784.5, 347), 29, 29, fc=c_day3, ec='none'))
page.text(726, 362, 'day 2', ha='left', va='center', fontsize=13.2, color='#222222')
page.text(825, 362, 'day 3', ha='left', va='center', fontsize=13.2, color='#222222')
page.text(1071, 413, 'CSP', ha='right', va='center', fontsize=13, color='#222222')
page.text(1071, 546, 'FCZ', ha='right', va='center', fontsize=13, color='#222222')
page.text(1071, 672, 'FCZ + Gelda', ha='right', va='center', fontsize=13, color='#222222')
page.text(439, 578, 'Frequency per bin', rotation=90, ha='center', va='center', fontsize=13, color='#222222')
page.text(765, 809, 'Binned mean green intensity (n = 50 bins)', ha='center', va='center', fontsize=13, color='#222222')
page.plot([837.5, 837.5], [421, 742], color='#E5323E', lw=1.3, dashes=(7, 4))

# H text
page.text(870, 847, 'hyperosmoticS', ha='center', va='center', fontsize=10.2, color='#222222')
page.text(963, 847, 'clusters', ha='left', va='center', fontsize=10, color='#222222')
page.add_patch(Rectangle((963.3, 857), 7.4, 120.3, fc='#F4688A', ec='none'))
page.add_patch(Rectangle((963.3, 992), 7.4, 120.7, fc='#10B8AF', ec='none'))
page.text(979.7, 920.7, '2', ha='center', va='center', fontsize=10, color='#222222')
page.text(979.7, 1056, '4', ha='center', va='center', fontsize=10, color='#222222')
page.text(775, 987, 'ECDF', rotation=90, ha='center', va='center', fontsize=10, color='#111111')
page.text(881, 1140.5, 'signature score', ha='center', va='center', fontsize=10, color='#222222')
line_legend('drug_day', 1000, 917, drug_names, drug_colors, [945.7, 972.7, 999.3, 1026, 1052.7], 1003, 1025, 1035.7, 11.5)

# I text
page.text(303, 1159.7, 'clusters', ha='left', va='center', fontsize=9.5, color='#222222')
page.text(303, 1181.7, 'drug_day', ha='left', va='center', fontsize=9.5, color='#222222')
page.text(302, 1208, 'ENA2', ha='left', va='center', fontsize=10, style='italic', color='#222222')
page.text(302, 1236, 'GPD2', ha='left', va='center', fontsize=10, style='italic', color='#222222')
page.text(74, 1276, 'clusters', ha='left', va='center', fontsize=9, weight='bold', color='#222222')
page.text(151.5, 1275, 'drug_day', ha='left', va='center', fontsize=9, weight='bold', color='#222222')
page.text(266, 1279, 'z-score', ha='left', va='center', fontsize=9, weight='bold', color='#222222')
for i, (n, c) in enumerate(zip(cluster_names, cluster_colors)):
    y0 = 1291.3 + i * 19.9
    page.add_patch(Rectangle((75.3, y0), 20.4, 19.9, fc=c, ec='none'))
    page.text(100, y0 + 10.5, n, ha='left', va='center', fontsize=10, color='#333333')
for i, (n, c) in enumerate(zip(drug_names, drug_colors)):
    y0 = 1284 + i * 18.8
    page.add_patch(Rectangle((151.3, y0), 18.7, 18.8, fc=c, ec='none'))
    page.text(174, y0 + 9.5, n, ha='left', va='center', fontsize=10, color='#333333')
for t, y, x in zip(zscore_ticks, [1299.3, 1340.7, 1381], [284, 284, 281]):
    page.text(x, y, str(t).replace('-', '\u2212'), ha='left', va='center', fontsize=9.5, color='#333333')

# J text
page.text(456, 1184, 'ks-test', ha='left', va='center', fontsize=8.8, color='#222222')
page.text(456, 1199.5, '(RAPA_2 vs UT_0)', ha='left', va='center', fontsize=8.8, color='#222222')
page.text(456, 1215, 'p < 0.001', ha='left', va='center', fontsize=8.8, color='#222222')
page.text(404, 1267, 'ECDF', rotation=90, ha='center', va='center', fontsize=11, color='#111111')
page.text(552, 1394, 'RP signature score', ha='center', va='center', fontsize=11, color='#111111')
line_legend('drug_day', 712, 1226.5, drug_names, drug_colors, [1252, 1275.5, 1299, 1323, 1347.5], 715, 734, 744, 10)

fig.savefig('out.png', dpi=100)
